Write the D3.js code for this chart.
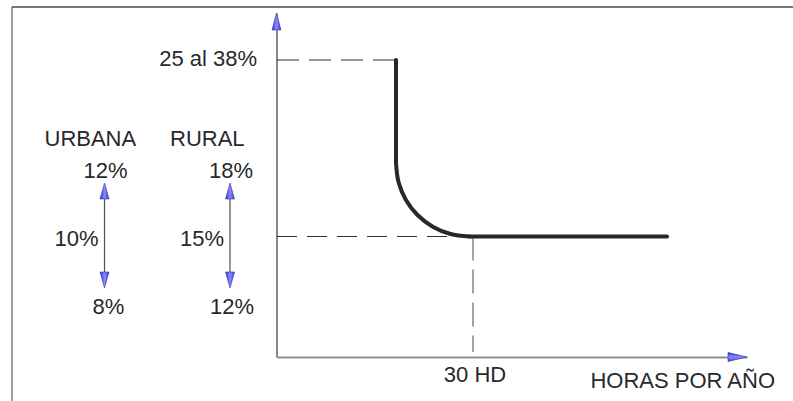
<!DOCTYPE html>
<html>
<head>
<meta charset="utf-8">
<script src="https://cdn.jsdelivr.net/npm/d3@7"></script>
<style>
  html, body { margin: 0; padding: 0; background: #ffffff; }
  svg { display: block; }
  text { font-family: "Liberation Sans", Arial, sans-serif; fill: #26292d; }
</style>
</head>
<body>
<svg id="chart" width="793" height="401"></svg>
<script>
// ---- data (schematic units) ----
const curveX = [11.9, 11.9, 12.15, 12.88, 14.05, 15.58, 17.35, 19.25, 39.0];
const curveY = [29.7, 19.4, 17.5, 15.73, 14.2, 13.03, 12.3, 12.05, 12.05];
const yLabel = "25 al 38%";
const yLabelValue = 29.7;
const xLabel = "30 HD";
const xLabelValue = 19.6;
const xAxisTitle = "HORAS POR AÑO";
const groups = ["URBANA", "RURAL"];
const topLabels = ["12%", "18%"];
const midLabels = ["10%", "15%"];
const bottomLabels = ["8%", "12%"];

// ---- layout ----
const svg = d3.select("#chart");
const x = d3.scaleLinear().domain([0, 47]).range([277, 747]);
const y = d3.scaleLinear().domain([0, 34.4]).range([357, 13]);
const gx = d3.scalePoint().domain(groups).range([104.5, 230]);
const FS = "22px";

// frame
svg.append("path").attr("d", "M12,401 L12,7").attr("stroke", "#7b7e82").attr("stroke-width", 1.5).attr("fill", "none");
svg.append("path").attr("d", "M12,7 L793,7").attr("stroke", "#4a4d52").attr("stroke-width", 1.6).attr("fill", "none");

// arrow head gradient
const defs = svg.append("defs");
const grad = defs.append("linearGradient").attr("id", "bh").attr("x1", "0").attr("x2", "1").attr("y1", "0").attr("y2", "0");
grad.append("stop").attr("offset", "0").attr("stop-color", "#2f2fc8");
grad.append("stop").attr("offset", "0.5").attr("stop-color", "#8a8aff");
grad.append("stop").attr("offset", "1").attr("stop-color", "#3a3ad6");
const gradV = defs.append("linearGradient").attr("id", "bv").attr("x1", "0").attr("x2", "0").attr("y1", "0").attr("y2", "1");
gradV.append("stop").attr("offset", "0").attr("stop-color", "#2f2fc8");
gradV.append("stop").attr("offset", "0.5").attr("stop-color", "#8a8aff");
gradV.append("stop").attr("offset", "1").attr("stop-color", "#3a3ad6");

function headUp(cx, tip, h, w) {
  return `M${cx},${tip} L${cx - w / 2},${tip + h} L${cx + w / 2},${tip + h} Z`;
}
function headDown(cx, tip, h, w) {
  return `M${cx},${tip} L${cx - w / 2},${tip - h} L${cx + w / 2},${tip - h} Z`;
}

// axes (lines only)
const xAxis = svg.append("g").attr("transform", `translate(0,${y(0)})`)
  .call(d3.axisBottom(x).tickValues([]).tickSizeOuter(0));
xAxis.select(".domain").attr("stroke", "#8c8f93").attr("stroke-width", 2);
const yAxis = svg.append("g").attr("transform", `translate(${x(0) - 0.5},0)`)
  .call(d3.axisLeft(y).tickValues([]).tickSizeOuter(0));
yAxis.select(".domain").attr("stroke", "#4f5358").attr("stroke-width", 1.4);

// axis arrow heads
svg.append("path").attr("d", headUp(x(0) - 0.5, y(34.4), 17, 9))
  .attr("fill", "url(#bh)").attr("stroke", "#3434a8").attr("stroke-width", 0.6);
svg.append("path")
  .attr("d", `M${x(47)},${y(0)} L${x(47) - 19},${y(0) - 4.5} L${x(47) - 19},${y(0) + 4.5} Z`)
  .attr("fill", "url(#bv)").attr("stroke", "#3434a8").attr("stroke-width", 0.6);

// dashed guides
const bendIdx = 7;
svg.append("line")
  .attr("x1", x(0)).attr("x2", x(curveX[0])).attr("y1", y(yLabelValue)).attr("y2", y(yLabelValue))
  .attr("stroke", "#2e3136").attr("stroke-width", 1.1).attr("stroke-dasharray", "22,10");
svg.append("line")
  .attr("x1", x(0)).attr("x2", x(curveX[bendIdx])).attr("y1", y(curveY[bendIdx])).attr("y2", y(curveY[bendIdx]))
  .attr("stroke", "#2e3136").attr("stroke-width", 1.1).attr("stroke-dasharray", "20,10");
svg.append("line")
  .attr("x1", x(xLabelValue)).attr("x2", x(xLabelValue)).attr("y1", y(curveY[bendIdx])).attr("y2", y(0.5))
  .attr("stroke", "#55595e").attr("stroke-width", 1.1).attr("stroke-dasharray", "24,9");

// main curve: straight drop, rounded bend, straight plateau
const pts = curveX.map((v, i) => [v, curveY[i]]);
const straight = d3.line().x(d => x(d[0])).y(d => y(d[1]));
const bend = d3.line().x(d => x(d[0])).y(d => y(d[1])).curve(d3.curveCatmullRom.alpha(0.5));
const curveStyle = sel => sel.attr("fill", "none").attr("stroke", "#25292e").attr("stroke-width", 4)
  .attr("stroke-linecap", "round").attr("stroke-linejoin", "round");
svg.append("path").datum(pts.slice(0, 2)).attr("d", straight).call(curveStyle);
svg.append("path").datum(pts.slice(1, bendIdx + 1)).attr("d", bend).call(curveStyle);
svg.append("path").datum(pts.slice(bendIdx)).attr("d", straight).call(curveStyle);

// axis labels
svg.append("text").attr("x", x(0) - 20).attr("y", y(yLabelValue) + 6)
  .attr("text-anchor", "end").style("font-size", FS).text(yLabel);
svg.append("text").attr("x", x(xLabelValue) + 2).attr("y", 382)
  .attr("text-anchor", "middle").style("font-size", FS).text(xLabel);
svg.append("text").attr("x", 775).attr("y", 388)
  .attr("text-anchor", "end").style("font-size", FS).text(xAxisTitle);

// legend arrows
groups.forEach((g, i) => {
  const cx = gx(g);
  svg.append("text").attr("x", cx - 60).attr("y", 146).style("font-size", FS).text(g);
  svg.append("text").attr("x", cx + 1).attr("y", 178).attr("text-anchor", "middle").style("font-size", FS).text(topLabels[i]);
  svg.append("text").attr("x", cx - 6).attr("y", 246).attr("text-anchor", "end").style("font-size", FS).text(midLabels[i]);
  svg.append("text").attr("x", cx + 2 + (i === 0 ? 2 : 0)).attr("y", 314).attr("text-anchor", "middle").style("font-size", FS).text(bottomLabels[i]);
  svg.append("line").attr("x1", cx).attr("x2", cx).attr("y1", 190).attr("y2", 282)
    .attr("stroke", "#4f5358").attr("stroke-width", 1.2);
  svg.append("path").attr("d", headUp(cx, 183, 16, 9))
    .attr("fill", "url(#bh)").attr("stroke", "#3434a8").attr("stroke-width", 0.6);
  svg.append("path").attr("d", headDown(cx, 288, 16, 9))
    .attr("fill", "url(#bh)").attr("stroke", "#3434a8").attr("stroke-width", 0.6);
});
</script>
</body>
</html>
